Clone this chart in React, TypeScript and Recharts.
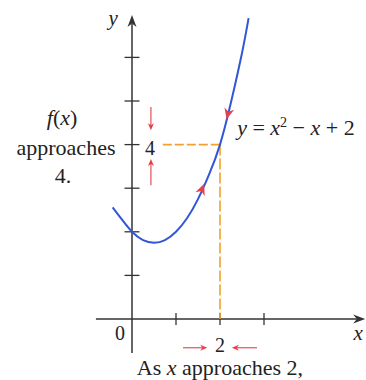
import React from "react";
import { LineChart, Line, XAxis, YAxis, ReferenceLine, ReferenceDot } from "recharts";

// Curve y = x^2 - x + 2, sampled points
const curveX = [-0.44, -0.25, 0, 0.25, 0.5, 0.75, 1.0, 1.25, 1.5, 1.75, 2.0, 2.25, 2.5, 2.65];
const curveY = [2.56, 2.31, 2.0, 1.81, 1.75, 1.81, 2.0, 2.31, 2.75, 3.31, 4.0, 4.97, 6.1, 6.9];

// Axis tick positions
const xTicks = [1, 2, 3];
const yTicks = [1, 2, 3, 4, 5, 6];

// Limit point
const limitX = 2;
const limitY = 4;

const data = curveX.map((x, i) => ({ x, y: curveY[i] }));

const W = 366;
const H = 380;
const X_DOMAIN: [number, number] = [-3, 234 / 44];
const Y_DOMAIN: [number, number] = [-61 / 43.6, 319 / 43.6];

const SERIF = "Liberation Serif";
const INK = "#222";
const AXIS = "#333";
const BLUE = "#3157d6";
const ORANGE = "#f2a22c";
const RED = "#e2404a";

type ArrowOpts = {
  color: string;
  width: number;
  line: boolean;
  headLen: number;
  headHalf: number;
};

// Draws a segment (optional) with a barbed arrowhead at its second end.
const arrowShape = (o: ArrowOpts) => (p: any) => {
  const x1 = Number(p.x1);
  const y1 = Number(p.y1);
  const x2 = Number(p.x2);
  const y2 = Number(p.y2);
  const dx = x2 - x1;
  const dy = y2 - y1;
  const len = Math.hypot(dx, dy) || 1;
  const ux = dx / len;
  const uy = dy / len;
  const nx = -uy;
  const ny = ux;
  const bx = x2 - ux * o.headLen;
  const by = y2 - uy * o.headLen;
  const notchX = x2 - ux * o.headLen * 0.7;
  const notchY = y2 - uy * o.headLen * 0.7;
  const pts = [
    `${x2},${y2}`,
    `${bx + nx * o.headHalf},${by + ny * o.headHalf}`,
    `${notchX},${notchY}`,
    `${bx - nx * o.headHalf},${by - ny * o.headHalf}`,
  ].join(" ");
  return (
    <g>
      {o.line && (
        <line
          x1={x1}
          y1={y1}
          x2={notchX}
          y2={notchY}
          stroke={o.color}
          strokeWidth={o.width}
        />
      )}
      <polygon points={pts} fill={o.color} stroke="none" />
    </g>
  );
};

const axisArrow = arrowShape({ color: AXIS, width: 1.5, line: true, headLen: 12, headHalf: 4.5 });
const hintArrow = arrowShape({ color: RED, width: 1.1, line: true, headLen: 7, headHalf: 3 });
const curveArrow = arrowShape({ color: RED, width: 1, line: false, headLen: 11, headHalf: 5 });

const textShape =
  (content: React.ReactNode, anchor: "start" | "middle" | "end" = "middle", size = 21) =>
  (p: any) => (
    <text
      x={p.cx}
      y={p.cy}
      fontFamily={SERIF}
      fontSize={size}
      fill={INK}
      textAnchor={anchor}
    >
      {content}
    </text>
  );

const it = (s: string) => (
  <tspan fontFamily={SERIF} fontStyle="italic">
    {s}
  </tspan>
);

export default function App() {
  return (
    <div style={{ position: "absolute", left: 0, top: 0, background: "#fff" }}>
      <LineChart width={W} height={H} data={data} margin={{ top: 0, right: 0, bottom: 0, left: 0 }}>
        <XAxis type="number" dataKey="x" domain={X_DOMAIN} allowDataOverflow hide />
        <YAxis type="number" domain={Y_DOMAIN} allowDataOverflow hide />

        {/* axes */}
        <ReferenceLine
          segment={[{ x: -0.82, y: 0 }, { x: 5.3, y: 0 }]}
          shape={axisArrow}
          ifOverflow="visible"
        />
        <ReferenceLine
          segment={[{ x: 0, y: -0.78 }, { x: 0, y: 6.97 }]}
          shape={axisArrow}
          ifOverflow="visible"
        />
        {xTicks.map((t) => (
          <ReferenceLine
            key={`xt${t}`}
            segment={[{ x: t, y: -0.14 }, { x: t, y: 0.14 }]}
            stroke={AXIS}
            strokeWidth={1.3}
          />
        ))}
        {yTicks.map((t) => (
          <ReferenceLine
            key={`yt${t}`}
            segment={[{ x: -0.17, y: t }, { x: 0.17, y: t }]}
            stroke={AXIS}
            strokeWidth={1.3}
          />
        ))}

        {/* dashed guides to the limit point */}
        <ReferenceLine
          segment={[{ x: 0.7, y: limitY }, { x: limitX, y: limitY }]}
          stroke={ORANGE}
          strokeWidth={1.6}
          strokeDasharray="9 3"
        />
        <ReferenceLine
          segment={[{ x: limitX, y: limitY }, { x: limitX, y: 0 }]}
          stroke={ORANGE}
          strokeWidth={1.6}
          strokeDasharray="11 3"
        />

        <Line
          type="natural"
          dataKey="y"
          stroke={BLUE}
          strokeWidth={2}
          dot={false}
          activeDot={false}
          isAnimationActive={false}
        />

        {/* arrowheads along the curve */}
        <ReferenceLine segment={[{ x: 1.52, y: 2.8 }, { x: 1.64, y: 3.1 }]} shape={curveArrow} />
        <ReferenceLine segment={[{ x: 2.26, y: 5.02 }, { x: 2.15, y: 4.58 }]} shape={curveArrow} />

        {/* approach hints on the axes */}
        <ReferenceLine segment={[{ x: 0.43, y: 4.86 }, { x: 0.43, y: 4.33 }]} shape={hintArrow} />
        <ReferenceLine segment={[{ x: 0.43, y: 3.07 }, { x: 0.43, y: 3.67 }]} shape={hintArrow} />
        <ReferenceLine
          segment={[{ x: 1.16, y: -0.66 }, { x: 1.71, y: -0.66 }]}
          shape={hintArrow}
          ifOverflow="visible"
        />
        <ReferenceLine
          segment={[{ x: 2.84, y: -0.66 }, { x: 2.27, y: -0.66 }]}
          shape={hintArrow}
          ifOverflow="visible"
        />

        {/* labels */}
        <ReferenceDot x={-0.43} y={6.74} shape={textShape(it("y"))} />
        <ReferenceDot x={5.14} y={-0.48} shape={textShape(it("x"))} />
        <ReferenceDot x={-0.27} y={-0.48} shape={textShape("0", "middle", 20)} />
        <ReferenceDot x={limitX} y={-0.76} shape={textShape("2", "middle", 20)} />
        <ReferenceDot x={0.41} y={3.77} shape={textShape("4", "middle", 20)} />

        <ReferenceDot
          x={2.39}
          y={4.22}
          shape={textShape(
            <>
              {it("y")}
              {" = "}
              {it("x")}
              <tspan dy={-8} fontSize={14}>2</tspan>
              <tspan dy={8}>{" − "}</tspan>
              {it("x")}
              {" + 2"}
            </>,
            "start",
            22
          )}
        />

        <ReferenceDot
          x={-1.59}
          y={4.45}
          shape={textShape(
            <>
              {it("f")}
              {"("}
              {it("x")}
              {")"}
            </>,
            "middle",
            22
          )}
        />
        <ReferenceDot x={-1.5} y={3.76} shape={textShape("approaches", "middle", 22)} />
        <ReferenceDot x={-1.57} y={3.12} shape={textShape("4.", "middle", 22)} />

        <ReferenceDot
          x={0.11}
          y={-1.28}
          ifOverflow="visible"
          shape={textShape(
            <>
              {"As "}
              {it("x")}
              {" approaches 2,"}
            </>,
            "start",
            22
          )}
        />
      </LineChart>
    </div>
  );
}
